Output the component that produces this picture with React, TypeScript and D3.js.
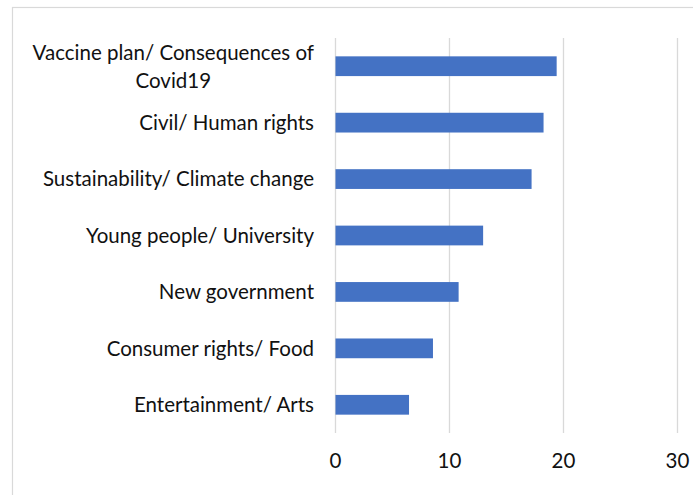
import React, { useEffect, useRef } from "react";
import * as d3 from "d3";

const categories: string[] = [
  "Vaccine plan/ Consequences of\nCovid19",
  "Civil/ Human rights",
  "Sustainability/ Climate change",
  "Young people/ University",
  "New government",
  "Consumer rights/ Food",
  "Entertainment/ Arts",
];
const values: number[] = [19.4, 18.25, 17.2, 12.95, 10.8, 8.55, 6.45];
const xTicks: number[] = [0, 10, 20, 30];

const W = 693;
const H = 495;
const FONT = "Lato, 'Open Sans', sans-serif";

export default function App() {
  const ref = useRef<SVGSVGElement | null>(null);

  useEffect(() => {
    const svg = d3.select(ref.current);
    svg.selectAll("*").remove();

    const x = d3.scaleLinear().domain([0, 30]).range([335.5, 677.5]);
    const y = d3
      .scaleBand<string>()
      .domain(categories)
      .range([38, 433])
      .paddingInner(0.65)
      .paddingOuter(0.325);

    svg.append("rect").attr("x", 0).attr("y", 0).attr("width", W).attr("height", H).attr("fill", "#fff");
    svg
      .append("rect")
      .attr("x", 12.5)
      .attr("y", 7.5)
      .attr("width", W + 20)
      .attr("height", H + 20)
      .attr("fill", "none")
      .attr("stroke", "#d9d9d9")
      .attr("stroke-width", 1.2);

    // gridlines
    svg
      .append("g")
      .selectAll("line")
      .data(xTicks)
      .join("line")
      .attr("x1", (d) => x(d))
      .attr("x2", (d) => x(d))
      .attr("y1", 38)
      .attr("y2", 433)
      .attr("stroke", "#d9d9d9")
      .attr("stroke-width", 1.3);

    // bars
    svg
      .append("g")
      .selectAll("rect")
      .data(categories)
      .join("rect")
      .attr("x", x(0))
      .attr("y", (d) => y(d)!)
      .attr("width", (d, i) => x(values[i]) - x(0))
      .attr("height", y.bandwidth())
      .attr("fill", "#4472c4");

    // tick labels
    svg
      .append("g")
      .selectAll("text")
      .data(xTicks)
      .join("text")
      .attr("x", (d) => x(d))
      .attr("y", 468)
      .attr("text-anchor", "middle")
      .attr("font-family", FONT)
      .attr("font-size", 20.5)
      .attr("fill", "#111")
      .text((d) => String(d));

    // category labels
    const labelRight = 314;
    const lineH = 28;
    const lg = svg.append("g");
    categories.forEach((c) => {
      const lines = c.split("\n");
      const cy = y(c)! + y.bandwidth() / 2;
      const n = lines.length;
      const texts = lines.map((ln, i) =>
        lg
          .append("text")
          .attr("y", cy + 7.3 + (i - (n - 1) / 2) * lineH)
          .attr("font-family", FONT)
          .attr("font-size", 20.5)
          .attr("fill", "#111")
          .text(ln)
      );
      const widths = texts.map((t) => (t.node() as SVGTextElement).getComputedTextLength());
      const maxW = Math.max(...widths);
      const center = labelRight - maxW / 2;
      texts.forEach((t) => t.attr("x", center).attr("text-anchor", "middle"));
    });
  }, []);

  return (
    <svg
      ref={ref}
      width={W}
      height={H}
      style={{ position: "absolute", left: 0, top: 0, display: "block" }}
    />
  );
}
